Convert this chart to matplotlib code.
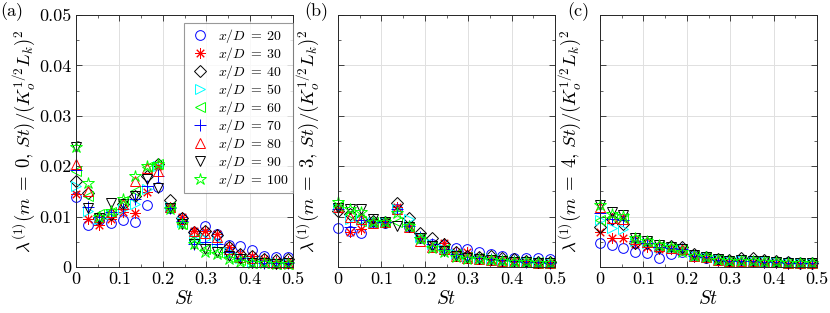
import numpy as np
import matplotlib
matplotlib.use('Agg')
import matplotlib.pyplot as plt
from matplotlib.ticker import FuncFormatter, AutoMinorLocator

plt.rcParams['font.family'] = 'serif'
plt.rcParams['font.serif'] = ['cmr10', 'DejaVu Serif']
plt.rcParams['mathtext.fontset'] = 'cm'
plt.rcParams['axes.formatter.use_mathtext'] = True

# Strouhal numbers
st = [0, 0.027, 0.054, 0.081, 0.108, 0.136, 0.163, 0.19, 0.217, 0.244,
      0.271, 0.298, 0.325, 0.352, 0.379, 0.406, 0.434, 0.461, 0.488]

xd_labels = [20, 30, 40, 50, 60, 70, 80, 90, 100]

# panel (a), m = 0, one row per x/D
lam_m0 = [
    [0.0139, 0.0083, 0.0093, 0.0087, 0.0094, 0.0090, 0.0123, 0.0158, 0.0118, 0.0097, 0.0070, 0.0082, 0.0065, 0.0043, 0.0042, 0.0033, 0.0022, 0.0020, 0.0020],
    [0.0144, 0.0096, 0.0083, 0.0095, 0.0110, 0.0107, 0.0148, 0.0200, 0.0120, 0.0100, 0.0072, 0.0072, 0.0065, 0.0040, 0.0025, 0.0022, 0.0015, 0.0012, 0.0012],
    [0.0170, 0.0146, 0.0097, 0.0105, 0.0125, 0.0140, 0.0180, 0.0205, 0.0133, 0.0098, 0.0070, 0.0072, 0.0063, 0.0040, 0.0025, 0.0022, 0.0015, 0.0013, 0.0015],
    [0.0160, 0.0112, 0.0095, 0.0105, 0.0115, 0.0125, 0.0155, 0.0200, 0.0120, 0.0090, 0.0055, 0.0055, 0.0050, 0.0030, 0.0018, 0.0010, 0.0009, 0.0007, 0.0007],
    [0.0190, 0.0140, 0.0105, 0.0110, 0.0130, 0.0150, 0.0198, 0.0205, 0.0120, 0.0085, 0.0055, 0.0035, 0.0030, 0.0020, 0.0013, 0.0008, 0.0008, 0.0006, 0.0006],
    [0.0192, 0.0120, 0.0100, 0.0110, 0.0115, 0.0135, 0.0160, 0.0180, 0.0118, 0.0092, 0.0045, 0.0050, 0.0045, 0.0030, 0.0018, 0.0012, 0.0008, 0.0007, 0.0007],
    [0.0205, 0.0150, 0.0100, 0.0110, 0.0125, 0.0170, 0.0197, 0.0190, 0.0120, 0.0095, 0.0072, 0.0068, 0.0060, 0.0035, 0.0020, 0.0018, 0.0010, 0.0008, 0.0008],
    [0.0238, 0.0118, 0.0098, 0.0127, 0.0125, 0.0140, 0.0175, 0.0157, 0.0118, 0.0085, 0.0045, 0.0035, 0.0030, 0.0022, 0.0015, 0.0008, 0.0008, 0.0006, 0.0007],
    [0.0238, 0.0166, 0.0100, 0.0112, 0.0135, 0.0180, 0.0200, 0.0205, 0.0115, 0.0085, 0.0045, 0.0030, 0.0025, 0.0015, 0.0010, 0.0008, 0.0008, 0.0006, 0.0006],
]

# panel (b), m = 3
lam_m3 = [
    [0.0077, 0.0071, 0.0068, 0.0088, 0.0088, 0.0115, 0.0080, 0.0058, 0.0045, 0.0044, 0.0037, 0.0035, 0.0030, 0.0025, 0.0022, 0.0018, 0.0018, 0.0018, 0.0015],
    [0.0115, 0.0070, 0.0075, 0.0090, 0.0090, 0.0120, 0.0082, 0.0058, 0.0045, 0.0047, 0.0030, 0.0030, 0.0020, 0.0016, 0.0013, 0.0012, 0.0010, 0.0009, 0.0008],
    [0.0112, 0.0105, 0.0095, 0.0092, 0.0090, 0.0127, 0.0098, 0.0068, 0.0058, 0.0045, 0.0030, 0.0022, 0.0020, 0.0022, 0.0018, 0.0015, 0.0012, 0.0010, 0.0010],
    [0.0118, 0.0095, 0.0093, 0.0090, 0.0090, 0.0115, 0.0095, 0.0060, 0.0045, 0.0035, 0.0025, 0.0020, 0.0018, 0.0015, 0.0013, 0.0012, 0.0010, 0.0009, 0.0008],
    [0.0122, 0.0105, 0.0092, 0.0090, 0.0090, 0.0090, 0.0080, 0.0058, 0.0042, 0.0035, 0.0025, 0.0020, 0.0017, 0.0015, 0.0013, 0.0011, 0.0010, 0.0009, 0.0008],
    [0.0115, 0.0080, 0.0093, 0.0090, 0.0090, 0.0115, 0.0082, 0.0060, 0.0045, 0.0035, 0.0025, 0.0020, 0.0018, 0.0015, 0.0013, 0.0011, 0.0010, 0.0009, 0.0008],
    [0.0120, 0.0100, 0.0095, 0.0088, 0.0090, 0.0115, 0.0080, 0.0052, 0.0040, 0.0035, 0.0022, 0.0018, 0.0016, 0.0014, 0.0012, 0.0010, 0.0009, 0.0008, 0.0007],
    [0.0118, 0.0115, 0.0115, 0.0095, 0.0090, 0.0082, 0.0080, 0.0058, 0.0042, 0.0032, 0.0022, 0.0018, 0.0016, 0.0014, 0.0012, 0.0010, 0.0009, 0.0008, 0.0007],
    [0.0128, 0.0115, 0.0110, 0.0090, 0.0090, 0.0108, 0.0082, 0.0055, 0.0038, 0.0030, 0.0020, 0.0015, 0.0015, 0.0013, 0.0011, 0.0010, 0.0009, 0.0008, 0.0007],
]

# panel (c), m = 4
lam_m4 = [
    [0.0047, 0.0043, 0.0038, 0.0030, 0.0028, 0.0018, 0.0025, 0.0030, 0.0022, 0.0018, 0.0015, 0.0012, 0.0013, 0.0012, 0.0012, 0.0010, 0.0009, 0.0008, 0.0008],
    [0.0070, 0.0058, 0.0058, 0.0045, 0.0040, 0.0035, 0.0035, 0.0033, 0.0020, 0.0018, 0.0012, 0.0010, 0.0010, 0.0009, 0.0008, 0.0007, 0.0006, 0.0006, 0.0006],
    [0.0080, 0.0095, 0.0085, 0.0048, 0.0047, 0.0040, 0.0042, 0.0040, 0.0025, 0.0020, 0.0015, 0.0013, 0.0017, 0.0017, 0.0013, 0.0011, 0.0009, 0.0008, 0.0008],
    [0.0093, 0.0078, 0.0075, 0.0052, 0.0048, 0.0040, 0.0038, 0.0035, 0.0022, 0.0020, 0.0015, 0.0012, 0.0013, 0.0012, 0.0011, 0.0010, 0.0008, 0.0008, 0.0008],
    [0.0093, 0.0100, 0.0098, 0.0055, 0.0050, 0.0042, 0.0038, 0.0035, 0.0022, 0.0020, 0.0015, 0.0012, 0.0013, 0.0012, 0.0011, 0.0010, 0.0008, 0.0008, 0.0008],
    [0.0107, 0.0095, 0.0093, 0.0052, 0.0048, 0.0040, 0.0038, 0.0035, 0.0022, 0.0020, 0.0014, 0.0012, 0.0012, 0.0011, 0.0010, 0.0009, 0.0008, 0.0007, 0.0007],
    [0.0120, 0.0097, 0.0095, 0.0055, 0.0050, 0.0042, 0.0038, 0.0035, 0.0022, 0.0020, 0.0014, 0.0012, 0.0012, 0.0011, 0.0010, 0.0009, 0.0008, 0.0007, 0.0007],
    [0.0123, 0.0110, 0.0103, 0.0057, 0.0052, 0.0043, 0.0040, 0.0036, 0.0023, 0.0020, 0.0015, 0.0012, 0.0013, 0.0012, 0.0011, 0.0010, 0.0008, 0.0008, 0.0008],
    [0.0123, 0.0105, 0.0101, 0.0057, 0.0052, 0.0043, 0.0040, 0.0030, 0.0022, 0.0020, 0.0013, 0.0011, 0.0012, 0.0011, 0.0010, 0.0009, 0.0008, 0.0007, 0.0007],
]

# matlab style markers / colours
markers = ['o', (8, 2, 0), 'D', '>', '<', '+', '^', 'v', '*']
colors = ['#0000ff', '#ff0000', '#000000', '#00ffff', '#00ff00',
          '#0000ff', '#ff0000', '#000000', '#00ff00']
msizes = [7, 7.5, 5.8, 7.5, 7.5, 8.5, 7.5, 7.5, 9]

panels = [(lam_m0, 0, '(a)'), (lam_m3, 3, '(b)'), (lam_m4, 4, '(c)')]
lefts = [76, 338, 600]
tag_x = [0, 304, 567]

fig = plt.figure(figsize=(8.3, 3.13), dpi=100)

for k, (data, m, tag) in enumerate(panels):
    ax = fig.add_axes([lefts[k] / 830, 46 / 313, 217 / 830, 252 / 313])
    for j in range(len(data)):
        ax.plot(st, data[j], linestyle='none', marker=markers[j],
                markersize=msizes[j], markerfacecolor='none',
                markeredgecolor=colors[j], markeredgewidth=0.7,
                clip_on=False, label=r'$x/D\;=\;%d$' % xd_labels[j])
    ax.set_xlim(0, 0.5)
    ax.set_ylim(0, 0.05)
    ax.set_xticks([0, 0.1, 0.2, 0.3, 0.4, 0.5])
    ax.set_yticks([0, 0.01, 0.02, 0.03, 0.04, 0.05])
    fmt = FuncFormatter(lambda v, p: '%g' % round(v, 4))
    ax.xaxis.set_major_formatter(fmt)
    ax.yaxis.set_major_formatter(fmt)
    ax.xaxis.set_minor_locator(AutoMinorLocator(2))
    ax.yaxis.set_minor_locator(AutoMinorLocator(2))
    ax.tick_params(which='both', direction='in', top=True, right=True,
                   labelsize=13, color='#262626')
    ax.tick_params(which='major', length=4, width=0.6)
    ax.tick_params(which='minor', length=2, width=0.5)
    ax.grid(True, color='#e0e0e0', linewidth=0.7)
    ax.set_axisbelow(True)
    for s in ax.spines.values():
        s.set_color('#262626')
        s.set_linewidth(0.7)
    ax.set_xlabel(r'$St$', fontsize=14, labelpad=2)
    ylab = r'$\lambda^{(1)}(m\;=\;%d,\,St)/(K_o^{1/2}L_k)^2$' % m
    if k == 0:
        ax.set_ylabel(ylab, fontsize=13.5, labelpad=1)
    else:
        ax.tick_params(axis='y', labelleft=False)
        ax.set_ylabel(ylab, fontsize=13.5, labelpad=9)
    fig.text(tag_x[k] / 830, 1 - 12 / 313, tag, fontsize=13,
             va='center', ha='left')
    if k == 0:
        leg = ax.legend(loc='upper right', fontsize=10, frameon=True,
                        fancybox=False, edgecolor='#808080', borderpad=0.3,
                        labelspacing=0.0, handletextpad=0.5, handlelength=1.6,
                        borderaxespad=0, bbox_to_anchor=(1.0, 0.968))
        leg.get_frame().set_linewidth(0.8)

fig.savefig('out.png', dpi=100)
